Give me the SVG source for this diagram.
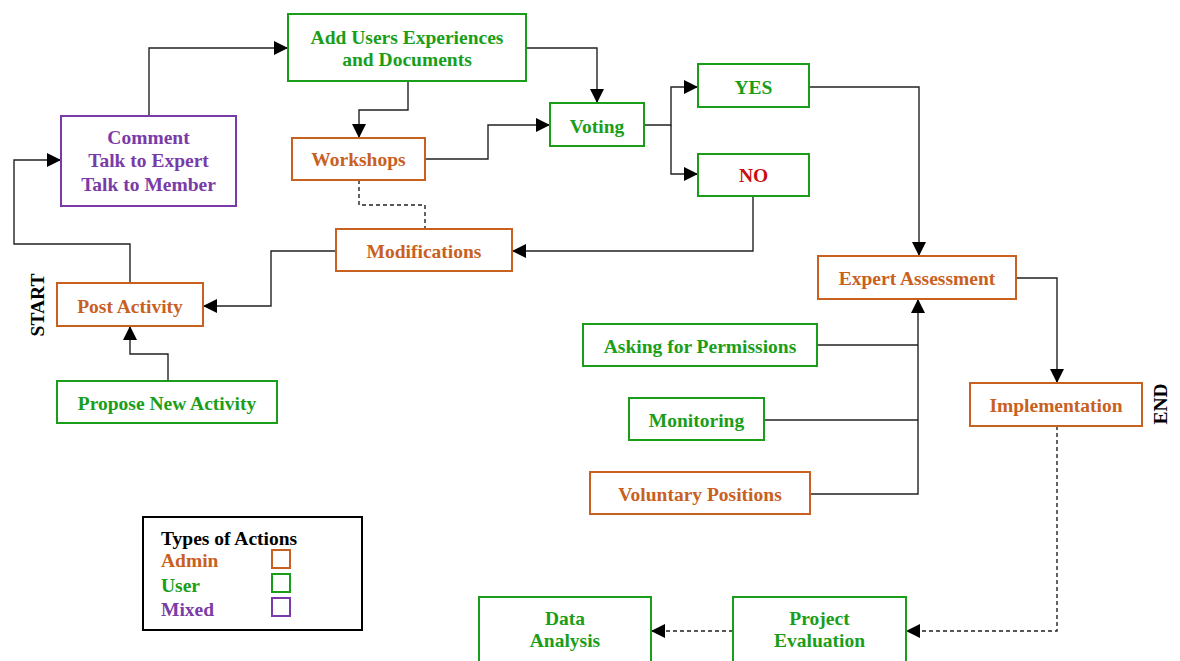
<svg xmlns="http://www.w3.org/2000/svg" width="1180" height="661" viewBox="0 0 1180 661">
<style>
text{font-family:"Liberation Serif","Times New Roman",serif;font-weight:bold;font-size:19.5px;text-anchor:middle}
.box{fill:#fff;stroke-width:2}
.adm{stroke:#C8611F}.usr{stroke:#1A9E1A}.mix{stroke:#7A3BA8}
.ta{fill:#C8611F}.tu{fill:#1A9E1A}.tm{fill:#7A3BA8}.tr{fill:#C81010}.tk{fill:#000}
.c{fill:none;stroke:#222;stroke-width:1.4}
.d{fill:none;stroke:#222;stroke-width:1.4;stroke-dasharray:4 3}
</style>
<defs>
<marker id="ah" markerUnits="userSpaceOnUse" markerWidth="15" markerHeight="15" refX="14" refY="7" orient="auto">
<path d="M0,0 L14,7 L0,14 z" fill="#000"/>
</marker>
</defs>
<rect width="1180" height="661" fill="#fff"/>
<g id="connectors">
<path class="c" d="M149,116 V48 H288" marker-end="url(#ah)"/>
<path class="c" d="M408,81 V110 H359 V138" marker-end="url(#ah)"/>
<path class="c" d="M526,48 H597 V103" marker-end="url(#ah)"/>
<path class="c" d="M425,159 H488 V125 H550" marker-end="url(#ah)"/>
<path class="c" d="M644,125 H671 V87 H698" marker-end="url(#ah)"/>
<path class="c" d="M671,125 V174 H698" marker-end="url(#ah)"/>
<path class="c" d="M809,87 H919 V256" marker-end="url(#ah)"/>
<path class="c" d="M753,196 V251 H512" marker-end="url(#ah)"/>
<path class="d" d="M359,180 V205 H425 V229"/>
<path class="c" d="M336,251 H271 V306 H203" marker-end="url(#ah)"/>
<path class="c" d="M130,283 V244 H14 V160 H61" marker-end="url(#ah)"/>
<path class="c" d="M168,381 V354 H130 V326" marker-end="url(#ah)"/>
<path class="c" d="M817,345 H918"/>
<path class="c" d="M764,420 H918"/>
<path class="c" d="M810,494 H918 V299" marker-end="url(#ah)"/>
<path class="c" d="M1016,278 H1057 V383" marker-end="url(#ah)"/>
<path class="d" d="M1057,426 V631 H906" marker-end="url(#ah)"/>
<path class="d" d="M733,631 H651" marker-end="url(#ah)"/>
</g>
<g id="add-users"><rect class="box usr" x="288" y="14" width="238" height="67"/><text class="tu" x="407" y="44">Add Users Experiences</text><text class="tu" x="407" y="66">and Documents</text></g>
<g id="comment"><rect class="box mix" x="61" y="116" width="175" height="90"/><text class="tm" x="148.5" y="144">Comment</text><text class="tm" x="148.5" y="167">Talk to Expert</text><text class="tm" x="148.5" y="191">Talk to Member</text></g>
<g id="workshops"><rect class="box adm" x="292" y="138" width="133" height="42"/><text class="ta" x="358.5" y="166">Workshops</text></g>
<g id="modifications"><rect class="box adm" x="336" y="229" width="176" height="42"/><text class="ta" x="424" y="258">Modifications</text></g>
<g id="post-activity"><rect class="box adm" x="57" y="283" width="146" height="43"/><text class="ta" x="130" y="313">Post Activity</text></g>
<g id="propose"><rect class="box usr" x="57" y="381" width="220" height="42"/><text class="tu" x="167" y="410">Propose New Activity</text></g>
<g id="start"><text class="tk" transform="translate(44,305) rotate(-90)">START</text></g>
<g id="voting"><rect class="box usr" x="550" y="103" width="94" height="43"/><text class="tu" x="597" y="133">Voting</text></g>
<g id="yes"><rect class="box usr" x="698" y="64" width="111" height="43"/><text class="tu" x="753.5" y="94">YES</text></g>
<g id="no"><rect class="box usr" x="698" y="154" width="111" height="42"/><text class="tr" x="753.5" y="182">NO</text></g>
<g id="expert"><rect class="box adm" x="818" y="256" width="198" height="43"/><text class="ta" x="917" y="285">Expert Assessment</text></g>
<g id="asking"><rect class="box usr" x="583" y="324" width="234" height="42"/><text class="tu" x="700" y="353">Asking for Permissions</text></g>
<g id="monitoring"><rect class="box usr" x="629" y="398" width="135" height="42"/><text class="tu" x="696.5" y="427">Monitoring</text></g>
<g id="voluntary"><rect class="box adm" x="590" y="472" width="220" height="42"/><text class="ta" x="700" y="501">Voluntary Positions</text></g>
<g id="implementation"><rect class="box adm" x="970" y="383" width="172" height="43"/><text class="ta" x="1056" y="412">Implementation</text></g>
<g id="end"><text class="tk" transform="translate(1167,404) rotate(-90)">END</text></g>
<g id="project-evaluation"><rect class="box usr" x="733" y="597" width="173" height="80"/><text class="tu" x="819.5" y="625">Project</text><text class="tu" x="819.5" y="647">Evaluation</text></g>
<g id="data-analysis"><rect class="box usr" x="479" y="597" width="172" height="80"/><text class="tu" x="565" y="625">Data</text><text class="tu" x="565" y="647">Analysis</text></g>
<g id="legend">
<rect x="143" y="517" width="219" height="113" fill="#fff" stroke="#000" stroke-width="2"/>
<text class="tk" x="161" y="545" style="text-anchor:start">Types of Actions</text>
<text class="ta" x="161" y="567" style="text-anchor:start">Admin</text>
<text class="tu" x="161" y="592" style="text-anchor:start">User</text>
<text class="tm" x="161" y="616" style="text-anchor:start">Mixed</text>
<rect class="box adm" x="272" y="550" width="18" height="18"/>
<rect class="box usr" x="272" y="574" width="18" height="18"/>
<rect class="box mix" x="272" y="598" width="18" height="18"/>
</g>
</svg>
